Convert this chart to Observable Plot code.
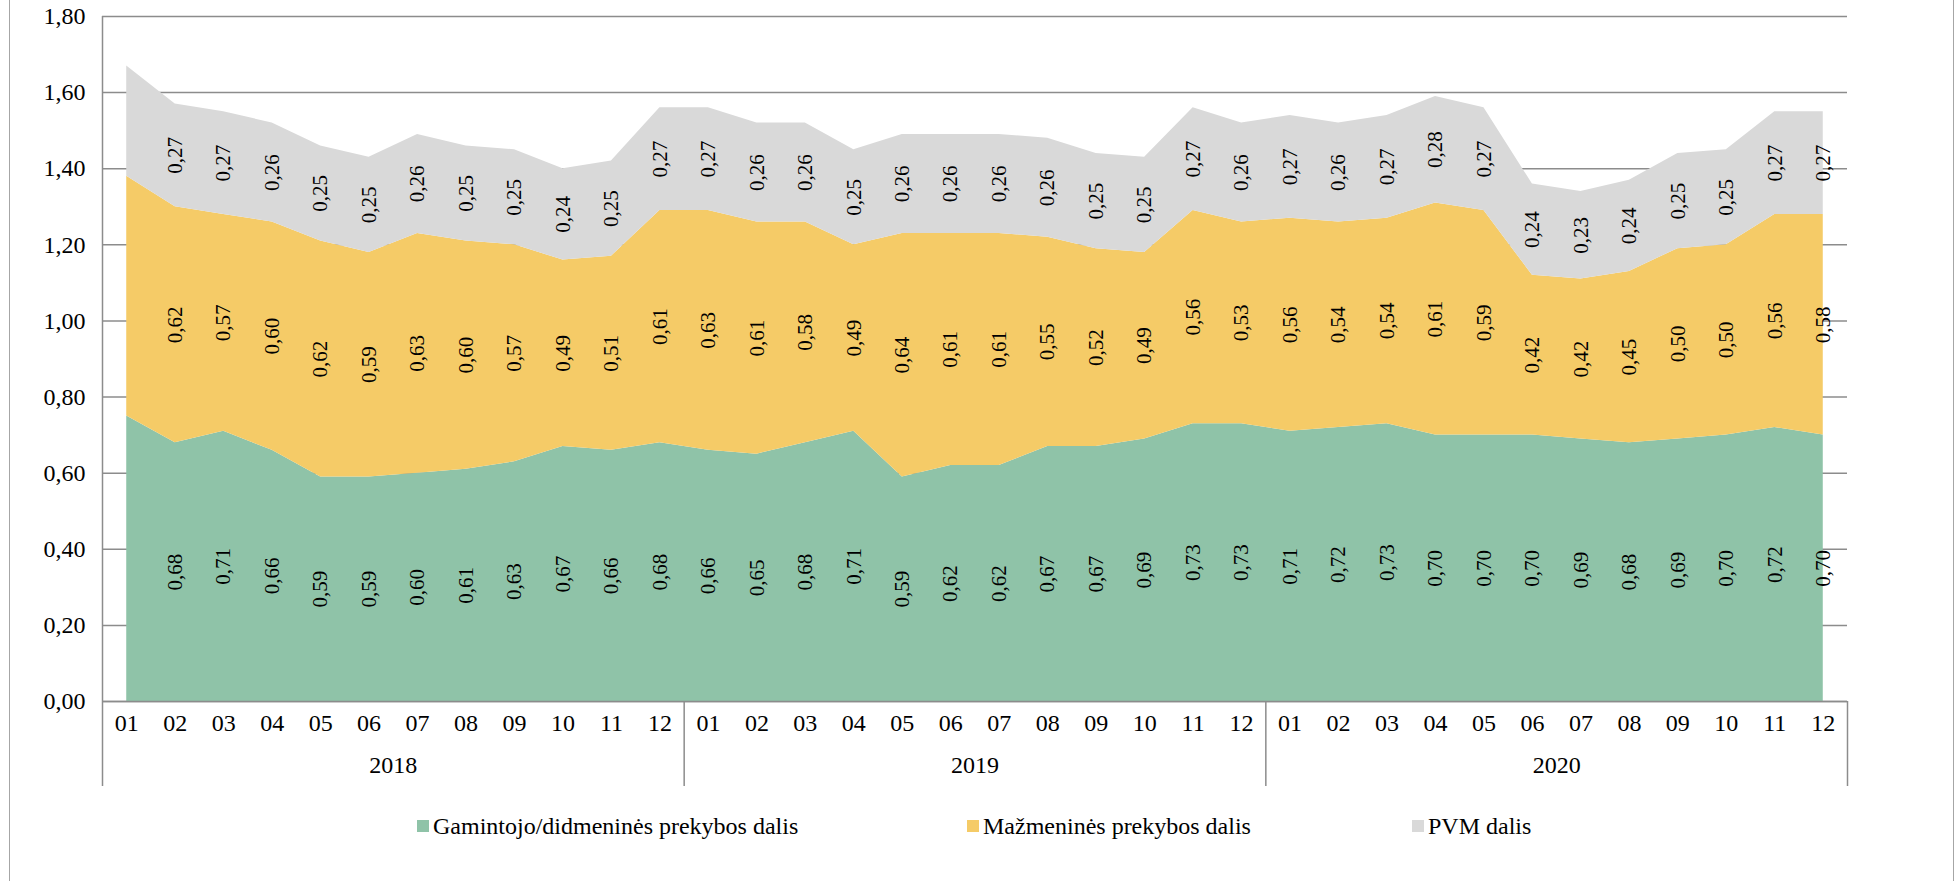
<!DOCTYPE html>
<html><head><meta charset="utf-8">
<script src="https://cdn.jsdelivr.net/npm/d3@7"></script>
<script src="https://cdn.jsdelivr.net/npm/@observablehq/plot@0.6"></script>
<style>
html,body{margin:0;padding:0;background:#fff;}
body{width:1959px;height:881px;position:relative;overflow:hidden;font-family:"Liberation Serif","Times New Roman",Times,serif;}
#frame{position:absolute;left:9px;top:-4px;width:1945px;height:895px;border-left:1.5px solid #a6a6a6;border-right:1.5px solid #a6a6a6;box-sizing:border-box;pointer-events:none;}
#chart{position:absolute;left:0;top:0;}
#legend{position:absolute;top:812px;left:0;width:1959px;height:28px;}
.item{position:absolute;top:0;display:flex;align-items:center;height:28px;font-size:24px;color:#000;white-space:nowrap;}
.sw{width:12px;height:12px;margin-right:4px;flex:none;}
</style></head><body>
<div id="chart"></div>
<div id="legend"></div>
<div id="frame"></div>
<script>
const years = ["2018", "2019", "2020"];
const months = ["01","02","03","04","05","06","07","08","09","10","11","12"];
const seriesNames = ["Gamintojo/didmeninės prekybos dalis", "Mažmeninės prekybos dalis", "PVM dalis"];
const seriesColors = ["#8FC3A8", "#F5CB67", "#D9D9D9"];
const gamintojo = [0.75,0.68,0.71,0.66,0.59,0.59,0.60,0.61,0.63,0.67,0.66,0.68,
                   0.66,0.65,0.68,0.71,0.59,0.62,0.62,0.67,0.67,0.69,0.73,0.73,
                   0.71,0.72,0.73,0.70,0.70,0.70,0.69,0.68,0.69,0.70,0.72,0.70];
const mazmenines = [0.63,0.62,0.57,0.60,0.62,0.59,0.63,0.60,0.57,0.49,0.51,0.61,
                    0.63,0.61,0.58,0.49,0.64,0.61,0.61,0.55,0.52,0.49,0.56,0.53,
                    0.56,0.54,0.54,0.61,0.59,0.42,0.42,0.45,0.50,0.50,0.56,0.58];
const pvm = [0.29,0.27,0.27,0.26,0.25,0.25,0.26,0.25,0.25,0.24,0.25,0.27,
             0.27,0.26,0.26,0.25,0.26,0.26,0.26,0.26,0.25,0.25,0.27,0.26,
             0.27,0.26,0.27,0.28,0.27,0.24,0.23,0.24,0.25,0.25,0.27,0.27];
const yTicks = [0, 0.2, 0.4, 0.6, 0.8, 1.0, 1.2, 1.4, 1.6, 1.8];
// first month of the series carries no data labels in the original
const unlabeledIndex = 0;

const seriesValues = [gamintojo, mazmenines, pvm];
const cats = years.flatMap(y => months.map(m => ({year: y, month: m})));
cats.forEach((c, i) => c.i = i);
const rows = seriesNames.flatMap((s, k) => cats.map(c => ({...c, series: s, value: seriesValues[k][c.i]})));
const yearCenters = d3.rollups(cats, v => d3.mean(v, d => d.i), d => d.year).map(([year, i]) => ({year, i}));
const yearBounds = years.map(y => d3.max(cats.filter(c => c.year === y), c => c.i) + 0.5);
const fmt = v => d3.format(".2f")(v).replace(".", ",");

const W = 1959, H = 800, MT = 16, MB = 99, ML = 102, MR = 112;
const GRAY = "#8c8c8c";
const below = 85;

const chart = Plot.plot({
  width: W, height: H,
  marginTop: MT, marginBottom: MB, marginLeft: ML, marginRight: MR,
  style: {fontFamily: '"Liberation Serif","Times New Roman",Times,serif', background: "transparent", color: "#000"},
  x: {domain: [-0.5, cats.length - 0.5], axis: null},
  y: {domain: [0, 1.8], axis: null},
  color: {domain: seriesNames, range: seriesColors},
  marks: [
    Plot.gridY(yTicks, {stroke: GRAY, strokeOpacity: 1, strokeWidth: 1.5}),
    Plot.areaY(rows, {x: "i", y: "value", z: "series", fill: "series", fillOpacity: 1}),
    Plot.ruleY([0], {stroke: GRAY, strokeWidth: 1.5}),
    Plot.ruleX([-0.5], {stroke: GRAY, strokeWidth: 1.5, insetBottom: -below}),
    Plot.ruleX(yearBounds, {stroke: GRAY, strokeWidth: 1.5, insetTop: H - MB - MT, insetBottom: -below}),
    Plot.text(rows, Plot.stackY({
      x: "i", y: "value", z: "series",
      text: d => d.i === unlabeledIndex ? null : fmt(d.value),
      rotate: -90, fontSize: 21, fill: "#000"
    })),
    Plot.text(cats, {x: "i", text: "month", frameAnchor: "bottom", dy: 29, fontSize: 24, fill: "#000"}),
    Plot.text(yearCenters, {x: "i", text: "year", frameAnchor: "bottom", dy: 71, fontSize: 24, fill: "#000"}),
    Plot.axisY({ticks: yTicks, tickFormat: fmt, tickSize: 0, tickPadding: 17, fontSize: 24, anchor: "left", label: null})
  ]
});
document.getElementById("chart").appendChild(chart);

const legendLeft = [417, 967, 1412];
const legend = document.getElementById("legend");
seriesNames.forEach((s, k) => {
  const item = document.createElement("div");
  item.className = "item";
  item.style.left = legendLeft[k] + "px";
  const sw = document.createElement("span");
  sw.className = "sw";
  sw.style.background = seriesColors[k];
  const t = document.createElement("span");
  t.textContent = s;
  item.appendChild(sw); item.appendChild(t);
  legend.appendChild(item);
});
</script>
</body></html>
